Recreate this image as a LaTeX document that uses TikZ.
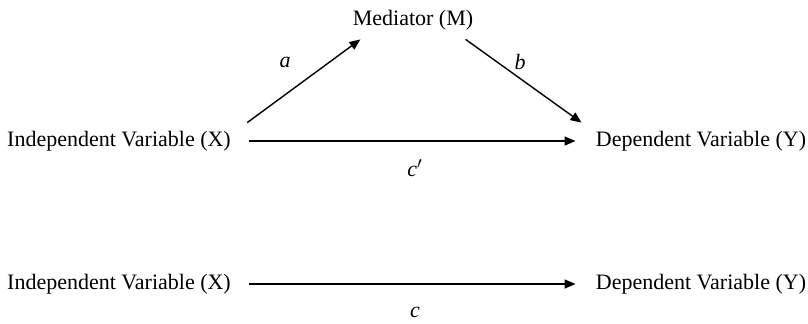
\documentclass[tikz,border=0pt]{standalone}
\usepackage{fontspec}
\setmainfont{Liberation Serif}
\usetikzlibrary{positioning, arrows.meta}

\begin{document}
\begin{tikzpicture}[
  x=0.5pt, y=-0.5pt,
  >={Triangle[length=5.5pt,width=4.5pt]},
  edge/.style={->, line width=0.7pt},
  var/.style={inner sep=0pt, font=\fontsize{11}{13}\selectfont},
  plabel/.style={inner sep=1pt, font=\fontsize{11}{13}\selectfont\itshape}
]
\useasboundingbox (0,0) rectangle (808,323);

% --- Mediation model ---
\node[var] (M) at (413,20) {Mediator (M)};
\node[var] (X1) at (119,141) {Independent Variable (X)};
\node[var] (Y1) at (701,141) {Dependent Variable (Y)};

% --- Total effect ---
\node[var] (X2) at (119,284) {Independent Variable (X)};
\node[var] (Y2) at (701,284) {Dependent Variable (Y)};

% --- Paths ---
\draw[edge] ([xshift=8pt,yshift=4pt]X1.north east) -- ([xshift=4pt,yshift=-4.5pt]M.south west);
\draw[edge] ([xshift=-4pt,yshift=-4.5pt]M.south east) -- ([xshift=-7pt,yshift=4pt]Y1.north west);
\draw[edge, shorten <=9pt, shorten >=10pt] (X1.east) -- (Y1.west);
\draw[edge, shorten <=9pt, shorten >=10pt] (X2.east) -- (Y2.west);

% --- Path labels ---
\node[plabel] (la) at (285,62) {a};
\node[plabel] (lb) at (520,62) {b};
\node[plabel] (lcp) at (415,168) {c$'$};
\node[plabel] (lc) at (415,312) {c};

\end{tikzpicture}
\end{document}
